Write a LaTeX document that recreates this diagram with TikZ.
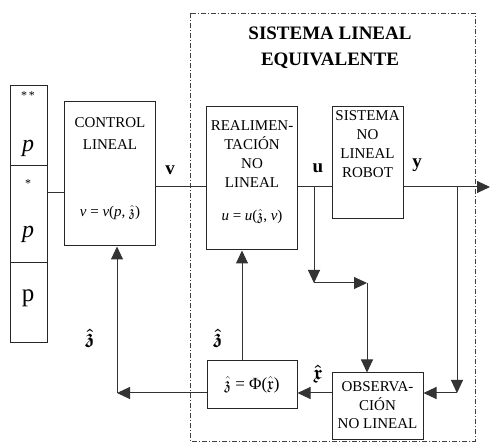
\documentclass[tikz,border=0pt]{standalone}
\usepackage{amsmath,amsfonts}
\usepackage{fontspec}
\setmainfont{Liberation Serif}[Ligatures=TeX]
\newfontfamily\boxfont{Liberation Serif}
\usetikzlibrary{arrows.meta}
\begin{document}
\begin{tikzpicture}[x=1pt,y=-1pt,
  box/.style={draw=black!85,line width=1pt,inner sep=0pt},
  ln/.style={draw=black!80,line width=1pt},
  arr/.style={ln,-{Triangle[length=13pt,width=12pt]}},
  txt/.style={align=center,inner sep=0pt},
  lab/.style={font=\boxfont\fontsize{19}{22}\selectfont\bfseries,inner sep=0pt},
  eq/.style={font=\boxfont\fontsize{15}{16}\selectfont,inner sep=0pt},
  hz/.style={font=\fontsize{20}{20}\selectfont,inner sep=0pt}]
\useasboundingbox (0,0) rectangle (490,443);
% equivalent linear system frame
\draw[black!75,line width=0.8pt,dash pattern=on 5pt off 2pt on 1pt off 2pt] (190,13) rectangle (475,441);
\node[txt,font=\boxfont\fontsize{19}{26}\selectfont\bfseries] (title) at (330,48) {SISTEMA LINEAL\\EQUIVALENTE};
% reference column
\node[box,minimum width=37pt,minimum height=80pt] (c1) at (28.5,126) {};
\node[box,minimum width=37pt,minimum height=97pt] (c2) at (28.5,214.5) {};
\node[box,minimum width=37pt,minimum height=80pt] (c3) at (28.5,303) {};
\node[inner sep=0pt,font=\boxfont\fontsize{12}{12}\selectfont] (st1) at (28,96) {*\,*};
\node[inner sep=0pt,font=\boxfont\fontsize{24}{24}\selectfont\itshape] (p1) at (28,148) {p};
\node[inner sep=0pt,font=\boxfont\fontsize{12}{12}\selectfont] (st2) at (28,184) {*};
\node[inner sep=0pt,font=\boxfont\fontsize{24}{24}\selectfont\itshape] (p2) at (28,234) {p};
\node[inner sep=0pt,font=\boxfont\fontsize{25}{25}\selectfont] (p3) at (28,298) {p};
% blocks
\node[box,minimum width=91pt,minimum height=144pt] (ctrl) at (109.5,174) {};
\node[txt,font=\boxfont\fontsize{15}{22}\selectfont] (ctrlt) at (110,134) {CONTROL\\LINEAL};
\node[eq] (ctrleq) at (110,213) {\textit{v} = \textit{v}(\textit{p}, $\hat{\mathfrak{z}}$)};
\node[box,minimum width=91pt,minimum height=143pt] (realim) at (251.5,178.5) {};
\node[txt,font=\boxfont\fontsize{15}{19}\selectfont] (realimt) at (252,154.5) {REALIMEN-\\TACIÓN\\NO\\LINEAL};
\node[eq] (realimeq) at (252,217) {\textit{u} = \textit{u}($\hat{\mathfrak{z}}$, \textit{v})};
\node[box,minimum width=71pt,minimum height=112pt] (sis) at (367.5,163) {};
\node[txt,font=\boxfont\fontsize{15}{19}\selectfont] (sist) at (367.5,144.5) {SISTEMA\\NO\\LINEAL\\ROBOT};
\node[box,minimum width=91pt,minimum height=66pt] (obs) at (377.5,406) {};
\node[txt,font=\boxfont\fontsize{15}{18.5}\selectfont] (obst) at (377.5,405.5) {OBSERVA-\\CIÓN\\NO LINEAL};
\node[box,minimum width=90pt,minimum height=48pt] (phi) at (252,385) {};
\node[eq,font=\boxfont\fontsize{17}{18}\selectfont] (phieq) at (252,385) {$\hat{\mathfrak{z}}$ = Φ($\hat{\mathfrak{x}}$)};
% signal labels
\node[lab] (vl) at (170,170) {v};
\node[lab] (ul) at (318,168) {u};
\node[lab] (yl) at (417,165) {y};
\node[hz] (zl1) at (90,338) {$\boldsymbol{\hat{\mathfrak{z}}}$};
\node[hz] (zl2) at (218,338) {$\boldsymbol{\hat{\mathfrak{z}}}$};
\node[hz] (xl) at (318,374) {$\boldsymbol{\hat{\mathfrak{x}}}$};
% connectors
\coordinate (lvl) at (0,187);
\coordinate (cin) at (64,193);
\draw[ln] (cin -| c2.east) -- (cin);
\draw[ln] (ctrl.east |- lvl) -- (realim.west |- lvl);
\draw[ln] (realim.east |- lvl) -- (sis.west |- lvl);
\coordinate (out) at (490,187);
\draw[arr] (sis.east |- lvl) -- (out);
\coordinate (ub) at (314,187);
\coordinate (uc) at (314,283);
\coordinate (ud) at (367,283);
\draw[arr] (ub) -- (uc);
\draw[arr] (uc) -- (ud);
\draw[arr] (ud) -- (ud |- obs.north);
\coordinate (yb) at (457,187);
\coordinate (yc) at (457,393);
\draw[arr] (yb) -- (yc);
\draw[arr] (yc) -- (yc -| obs.east);
\draw[arr] (obs.west |- yc) -- (phi.east |- yc);
\coordinate (zc) at (242,0);
\draw[arr] (zc |- phi.north) -- (zc |- realim.south);
\coordinate (lc) at (117,393);
\draw[arr] (phi.west |- lc) -- (lc);
\draw[arr] (lc) -- (lc |- ctrl.south);
\end{tikzpicture}
\end{document}
